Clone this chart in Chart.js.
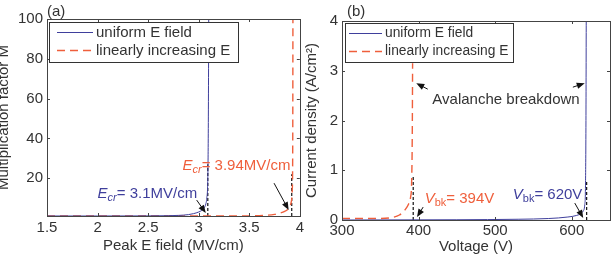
<!DOCTYPE html>
<html>
<head>
<meta charset="utf-8">
<script src="https://cdn.jsdelivr.net/npm/chart.js@4"></script>
<style>
  body { margin: 0; background: #fff; }
  #wrap { position: relative; width: 615px; height: 255px; overflow: hidden; }
  canvas { position: absolute; top: 0; }
  #chartA { left: 0; }
  #chartB { left: 305px; }
</style>
</head>
<body>
<div id="wrap">
  <canvas id="chartA" width="307" height="255"></canvas>
  <canvas id="chartB" width="310" height="255"></canvas>
</div>
<script>
// (a) multiplication factor vs peak field
const fieldUniform = [1.5, 2.0, 2.5, 2.7, 2.8, 2.9, 2.95, 3.0, 3.03, 3.05, 3.07, 3.08, 3.09, 3.095, 3.1];
const mUniform     = [1.0, 1.0, 1.05, 1.15, 1.3, 1.7, 2.2, 3.0, 3.8, 4.8, 7, 10, 20, 45, 110];
const fieldLinear  = [1.5, 3.0, 3.5, 3.65, 3.75, 3.8, 3.85, 3.88, 3.9, 3.915, 3.925, 3.93, 3.932];
const mLinear      = [1.0, 1.0, 1.05, 1.3, 1.8, 2.4, 3.3, 4.3, 5.5, 8, 14, 40, 110];
const critFieldA   = [3.09, 3.09];
const critMA       = [1, 27];
const critFieldB   = [3.92, 3.92];
const critMB       = [1, 22];
const fieldTicks   = [1.5, 2, 2.5, 3, 3.5, 4];
const mTicks       = [20, 40, 60, 80, 100];

// (b) current density vs voltage
const voltUniform  = [300, 450, 530, 570, 595, 606, 612, 615, 617, 618, 618.6, 619];
const jUniform     = [0.0, 0.005, 0.015, 0.03, 0.06, 0.09, 0.13, 0.18, 0.3, 0.7, 2, 4.2];
const voltLinear   = [300, 350, 365, 375, 382, 387, 389.5, 391, 391.8, 392.2];
const jLinear      = [0.03, 0.03, 0.05, 0.1, 0.2, 0.32, 0.45, 0.8, 1.8, 3.15];
const bkVoltA      = [393, 393];
const bkJA         = [0, 0.9];
const bkVoltB      = [619.5, 619.5];
const bkJB         = [0, 0.8];
const voltTicks    = [300, 400, 500, 600];
const jTicks       = [0, 1, 2, 3, 4];

const FONT = "'Liberation Sans', Arial, Helvetica, sans-serif";
const BLUE = '#3f3f9c';
const RED = '#ef5f3c';
const TEXT = '#333';

Chart.defaults.font.family = FONT;
Chart.defaults.font.size = 15;
Chart.defaults.color = TEXT;

function pts(xs, ys) {
  return xs.map((x, i) => ({ x: x, y: ys[i] }));
}

function drawRich(ctx, x, y, parts, color) {
  ctx.save();
  ctx.fillStyle = color;
  ctx.textBaseline = 'middle';
  ctx.textAlign = 'left';
  parts.forEach(p => {
    const size = p.sub ? 11 : 15;
    ctx.font = (p.italic ? 'italic ' : '') + size + 'px ' + FONT;
    ctx.fillText(p.t, x, y + (p.sub ? 4 : 0));
    x += ctx.measureText(p.t).width;
  });
  ctx.restore();
}

function arrow(ctx, x1, y1, x2, y2) {
  const a = Math.atan2(y2 - y1, x2 - x1);
  const len = 8, w = 3.2;
  ctx.save();
  ctx.strokeStyle = '#111';
  ctx.fillStyle = '#111';
  ctx.lineWidth = 1;
  ctx.beginPath();
  ctx.moveTo(x1, y1);
  ctx.lineTo(x2 - Math.cos(a) * len * 0.8, y2 - Math.sin(a) * len * 0.8);
  ctx.stroke();
  ctx.beginPath();
  ctx.moveTo(x2, y2);
  ctx.lineTo(x2 - Math.cos(a) * len - Math.sin(a) * w, y2 - Math.sin(a) * len + Math.cos(a) * w);
  ctx.lineTo(x2 - Math.cos(a) * len + Math.sin(a) * w, y2 - Math.sin(a) * len - Math.cos(a) * w);
  ctx.closePath();
  ctx.fill();
  ctx.restore();
}

// box, inside ticks, legend, notes and arrows
const panelDecor = {
  id: 'panelDecor',
  afterDatasetsDraw(chart, args, opts) {
    const ctx = chart.ctx;
    const a = chart.chartArea;
    const sx = chart.scales.x, sy = chart.scales.y;

    ctx.save();
    ctx.strokeStyle = '#444';
    ctx.lineWidth = 1;
    ctx.strokeRect(Math.round(a.left) + 0.5, Math.round(a.top) + 0.5,
      Math.round(a.right - a.left), Math.round(a.bottom - a.top));
    ctx.beginPath();
    sx.ticks.forEach(t => {
      const px = Math.round(sx.getPixelForValue(t.value)) + 0.5;
      ctx.moveTo(px, a.bottom); ctx.lineTo(px, a.bottom - 3);
      ctx.moveTo(px, a.top); ctx.lineTo(px, a.top + 3);
    });
    sy.ticks.forEach(t => {
      const py = Math.round(sy.getPixelForValue(t.value)) + 0.5;
      ctx.moveTo(a.left, py); ctx.lineTo(a.left + 3, py);
      ctx.moveTo(a.right, py); ctx.lineTo(a.right - 3, py);
    });
    ctx.stroke();
    ctx.restore();

    // legend
    const lg = opts.legend;
    ctx.save();
    ctx.fillStyle = '#fff';
    ctx.fillRect(lg.x, lg.y, lg.w, lg.h);
    ctx.strokeStyle = '#333';
    ctx.strokeRect(lg.x + 0.5, lg.y + 0.5, lg.w, lg.h);
    const rows = [
      { label: 'uniform E field', color: BLUE, dash: [], width: 1 },
      { label: 'linearly increasing E', color: RED, dash: [8, 5], width: 1.3 }
    ];
    rows.forEach((r, i) => {
      const yy = lg.y + 10.5 + i * 18;
      ctx.beginPath();
      ctx.setLineDash(r.dash);
      ctx.strokeStyle = r.color;
      ctx.lineWidth = r.width;
      ctx.moveTo(lg.x + lg.s0, yy); ctx.lineTo(lg.x + lg.s1, yy);
      ctx.stroke();
      ctx.setLineDash([]);
      ctx.fillStyle = TEXT;
      ctx.font = lg.size + 'px ' + FONT;
      ctx.textBaseline = 'middle';
      ctx.fillText(r.label, lg.x + lg.s1 + 3, yy);
    });
    ctx.restore();

    // notes
    opts.notes.forEach(n => {
      drawRich(ctx, sx.getPixelForValue(n.x), sy.getPixelForValue(n.y), n.parts, n.color);
    });
    opts.arrows.forEach(r => {
      arrow(ctx, sx.getPixelForValue(r[0]), sy.getPixelForValue(r[1]),
        sx.getPixelForValue(r[2]), sy.getPixelForValue(r[3]));
    });

    // panel label
    ctx.save();
    ctx.fillStyle = TEXT;
    ctx.font = '15px ' + FONT;
    ctx.textBaseline = 'middle';
    ctx.fillText(opts.label, opts.labelX, opts.labelY);
    ctx.restore();
  }
};

function makeChart(id, cfg) {
  return new Chart(document.getElementById(id), {
    type: 'line',
    data: {
      datasets: [
        { data: cfg.blue, borderColor: BLUE, borderWidth: 1, pointRadius: 0, cubicInterpolationMode: 'monotone' },
        { data: cfg.red, borderColor: RED, borderWidth: 1.4, borderDash: [8, 5], pointRadius: 0, cubicInterpolationMode: 'monotone' },
        { data: cfg.mark1, borderColor: '#111', borderWidth: 1.2, borderDash: [3, 2], pointRadius: 0 },
        { data: cfg.mark2, borderColor: '#111', borderWidth: 1.2, borderDash: [3, 2], pointRadius: 0 }
      ]
    },
    options: {
      responsive: false,
      animation: false,
      events: [],
      layout: { padding: { top: cfg.top, right: cfg.right, left: 0, bottom: 0 } },
      plugins: { legend: { display: false }, tooltip: { enabled: false }, panelDecor: cfg.decor },
      scales: {
        x: {
          type: 'linear', min: cfg.xMin, max: cfg.xMax,
          afterBuildTicks: s => { s.ticks = cfg.xTicks.map(v => ({ value: v })); },
          afterFit: s => { s.height = cfg.xHeight; },
          grid: { display: false, drawTicks: false }, border: { display: false },
          ticks: { padding: cfg.xPad, maxRotation: 0, callback: v => String(v) },
          title: { display: true, text: cfg.xTitle, padding: { top: 0, bottom: cfg.xTitlePad } }
        },
        y: {
          type: 'linear', min: cfg.yMin, max: cfg.yMax,
          afterBuildTicks: s => { s.ticks = cfg.yTicks.map(v => ({ value: v })); },
          afterFit: s => { s.width = cfg.yWidth; },
          grid: { display: false, drawTicks: false }, border: { display: false },
          ticks: { padding: 4, callback: v => String(v) },
          title: { display: true, text: cfg.yTitle, padding: { top: cfg.yTitlePad, bottom: 0 } }
        }
      }
    },
    plugins: [panelDecor]
  });
}

makeChart('chartA', {
  blue: pts(fieldUniform, mUniform),
  red: pts(fieldLinear, mLinear),
  mark1: pts(critFieldA, critMA),
  mark2: pts(critFieldB, critMB),
  xMin: 1.5, xMax: 4, yMin: 1, yMax: 100,
  xTicks: fieldTicks, yTicks: mTicks,
  top: 19, right: 6, yWidth: 47, xHeight: 39, xPad: 3, xTitlePad: 0, yTitlePad: -5,
  xTitle: 'Peak E field (MV/cm)', yTitle: 'Multiplication factor M',
  decor: {
    label: '(a)', labelX: 47, labelY: 12,
    legend: { x: 49, y: 22, w: 189, h: 40, s0: 8, s1: 44, size: 15 },
    notes: [
      { x: 2.0, y: 12, color: BLUE, parts: [{ t: 'E', italic: true }, { t: 'cr', italic: true, sub: true }, { t: '= 3.1MV/cm' }] },
      { x: 2.84, y: 26, color: RED, parts: [{ t: 'E', italic: true }, { t: 'cr', italic: true, sub: true }, { t: '= 3.94MV/cm' }] }
    ],
    arrows: [[2.98, 9, 3.07, 2.5], [3.745, 17.5, 3.89, 4]]
  }
});

makeChart('chartB', {
  blue: pts(voltUniform, jUniform),
  red: pts(voltLinear, jLinear),
  mark1: pts(bkVoltA, bkJA),
  mark2: pts(bkVoltB, bkJB),
  xMin: 300, xMax: 650, yMin: 0, yMax: 4,
  xTicks: voltTicks, yTicks: jTicks,
  top: 21, right: 5, yWidth: 37, xHeight: 35, xPad: 2, xTitlePad: -1, yTitlePad: -2,
  xTitle: 'Voltage (V)', yTitle: 'Current density (A/cm\u00b2)',
  decor: {
    label: '(b)', labelX: 42, labelY: 12,
    legend: { x: 40, y: 23, w: 168, h: 39, s0: 4, s1: 37, size: 13.8 },
    notes: [
      { x: 418, y: 2.41, color: TEXT, parts: [{ t: 'Avalanche breakdown' }] },
      { x: 408, y: 0.42, color: RED, parts: [{ t: 'V', italic: true }, { t: 'bk', sub: true }, { t: '= 394V' }] },
      { x: 523, y: 0.5, color: BLUE, parts: [{ t: 'V', italic: true }, { t: 'bk', sub: true }, { t: '= 620V' }] }
    ],
    arrows: [[412, 2.63, 397, 2.75], [601.5, 2.67, 617, 2.75], [406, 0.26, 398, 0.06], [604, 0.34, 615, 0.04]]
  }
});
</script>
</body>
</html>
